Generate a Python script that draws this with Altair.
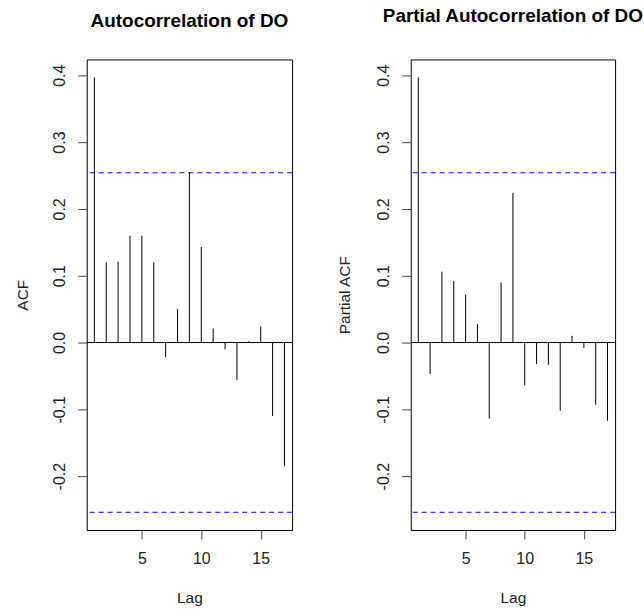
import altair as alt
import pandas as pd

# ---- data ----
lags = list(range(1, 18))
acf_values = [0.397, 0.120, 0.121, 0.160, 0.160, 0.120, -0.022, 0.050, 0.255,
              0.143, 0.021, -0.010, -0.056, 0.002, 0.024, -0.110, -0.185]
pacf_values = [0.397, -0.047, 0.106, 0.092, 0.072, 0.028, -0.114, 0.090, 0.224,
               -0.064, -0.032, -0.033, -0.102, 0.010, -0.008, -0.093, -0.117]
conf_limit = 0.254
y_ticks = [-0.2, -0.1, 0.0, 0.1, 0.2, 0.3, 0.4]
x_ticks = [5, 10, 15]
panel_titles = ["Autocorrelation of DO", "Partial Autocorrelation of DO"]
y_titles = ["ACF", "Partial ACF"]
x_title = "Lag"

FONT = "Liberation Sans"
LABEL_SIZE = 16
X_DOMAIN = [0.36, 17.64]
Y_DOMAIN = [-0.2805, 0.4236]


def panel(values, title, ytitle, title_offset, ytitle_x, width, height):
    df = pd.DataFrame({"lag": lags, "value": values})
    xs = alt.Scale(domain=X_DOMAIN, nice=False, zero=False)
    ys = alt.Scale(domain=Y_DOMAIN, nice=False, zero=False)
    xaxis = alt.Axis(
        values=x_ticks, title=x_title, grid=False, domain=False,
        tickSize=9, tickColor="#444444", labelPadding=12,
        labelFont=FONT, labelFontSize=LABEL_SIZE, labelColor="#222222",
        labelFlush=False, labelOverlap=False,
        titleFont=FONT, titleFontSize=15.5, titleFontWeight="normal",
        titleColor="#222222", titleBaseline="alphabetic",
        titleX=width / 2, titleY=72.7, titleAlign="center",
    )
    yaxis = alt.Axis(
        values=y_ticks, title=ytitle, grid=False, domain=False,
        tickSize=9, tickColor="#444444", labelPadding=10.5,
        labelAngle=270, labelAlign="center", labelBaseline="bottom",
        labelExpr="replace(format(datum.value, '.1f'), '\u2212', '-')",
        labelFont=FONT, labelFontSize=LABEL_SIZE, labelColor="#222222",
        labelFlush=False, labelOverlap=False,
        titleFont=FONT, titleFontSize=15.5, titleFontWeight="normal",
        titleColor="#222222", titleAngle=270, titleBaseline="alphabetic",
        titleAlign="center", titleX=ytitle_x, titleY=height / 2,
    )
    bars = alt.Chart(df).mark_rule(color="black", strokeWidth=1).encode(
        x=alt.X("lag:Q", scale=xs, axis=xaxis),
        y=alt.Y("value:Q", scale=ys, axis=yaxis),
        y2=alt.datum(0),
    )
    zero = alt.Chart(pd.DataFrame({"v": [0.0]})).mark_rule(
        color="black", strokeWidth=1
    ).encode(y=alt.Y("v:Q", scale=ys, axis=yaxis))
    conf = alt.Chart(pd.DataFrame({"v": [conf_limit, -conf_limit]})).mark_rule(
        color="#0000ff", strokeWidth=1, strokeDash=[5, 4]
    ).encode(y=alt.Y("v:Q", scale=ys, axis=yaxis))
    return alt.layer(zero, conf, bars).properties(
        width=width, height=height,
        title=alt.Title(
            title, font=FONT, fontSize=19, fontWeight="bold", color="black",
            anchor="middle", frame="group", baseline="alphabetic",
            offset=title_offset,
        ),
    )


left = panel(acf_values, panel_titles[0], y_titles[0], 13.6, -59, 206, 472)
right = panel(pacf_values, panel_titles[1], y_titles[1], 18.6, -61.5, 205, 472)

chart = alt.hconcat(left, right, spacing=44).properties(
    padding={"left": 15, "top": 4.7, "right": 0, "bottom": 0},
    background="white",
).configure_view(stroke="black", strokeWidth=1)

chart.save("out.html", embed_options={"renderer": "svg", "actions": False})
